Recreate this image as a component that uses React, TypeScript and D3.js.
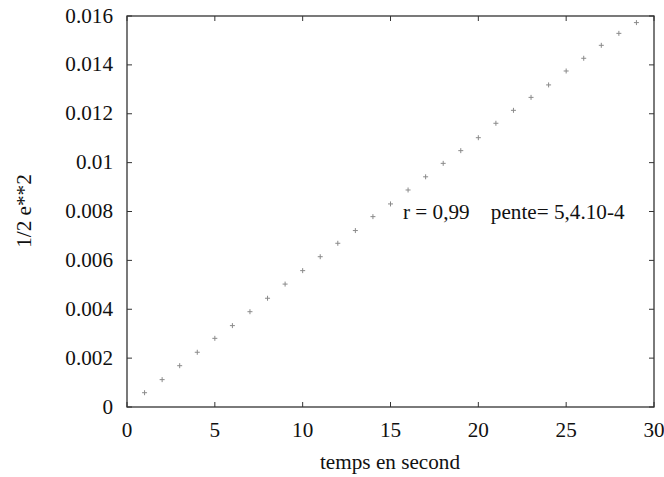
import React from "react";
import * as d3 from "d3";

const times = [
  1, 2, 3, 4, 5, 6, 7, 8, 9, 10, 11, 12, 13, 14, 15, 16, 17, 18, 19, 20, 21, 22,
  23, 24, 25, 26, 27, 28, 29,
];
const halfESquared = [
  0.000585, 0.00112, 0.00169, 0.00224, 0.00281, 0.00333, 0.0039, 0.00445,
  0.00503, 0.00558, 0.00615, 0.0067, 0.00722, 0.00779, 0.00831, 0.00888,
  0.00942, 0.00997, 0.01049, 0.01102, 0.01161, 0.01214, 0.01267, 0.01318,
  0.01375, 0.01427, 0.0148, 0.01529, 0.01573,
];
const xTicks = [0, 5, 10, 15, 20, 25, 30];
const yTicks = [0, 0.002, 0.004, 0.006, 0.008, 0.01, 0.012, 0.014, 0.016];
const yTickLabels = ["0", "0.002", "0.004", "0.006", "0.008", "0.01", "0.012", "0.014", "0.016"];
const annotation = "r = 0,99    pente= 5,4.10-4";

const W = 664;
const H = 477;
const FONT = "'Liberation Serif', 'Times New Roman', serif";
const FS = 20;
const SX = 1.06; // glyphs in the source look slightly wide

// text stretched along its baseline
const Label = ({ x, y, anchor = "start", rotate = 0, children }: any) => (
  <g transform={`translate(${x},${y}) rotate(${rotate}) scale(${SX},1)`}>
    <text
      textAnchor={anchor}
      fontFamily={FONT}
      fontSize={FS}
      fill="#111"
      style={{ whiteSpace: "pre" }}
    >
      {children}
    </text>
  </g>
);

export default function App() {
  const x = d3.scaleLinear().domain([0, 30]).range([127, 654]);
  const y = d3.scaleLinear().domain([0, 0.016]).range([407, 16]);
  const tk = 5;

  return (
    <svg
      width={W}
      height={H}
      style={{ position: "absolute", left: 0, top: 0, background: "#fff" }}
    >
      {/* frame */}
      <rect
        x={x(0)}
        y={y(0.016)}
        width={x(30) - x(0)}
        height={y(0) - y(0.016)}
        fill="none"
        stroke="#333"
        strokeWidth={1.3}
      />
      {xTicks.map((t) => (
        <g key={"x" + t}>
          <line x1={x(t)} x2={x(t)} y1={y(0)} y2={y(0) - tk} stroke="#333" />
          <line x1={x(t)} x2={x(t)} y1={y(0.016)} y2={y(0.016) + tk} stroke="#333" />
          <Label x={x(t)} y={437} anchor="middle">
            {t}
          </Label>
        </g>
      ))}
      {yTicks.map((t, i) => (
        <g key={"y" + t}>
          <line x1={x(0)} x2={x(0) + tk} y1={y(t)} y2={y(t)} stroke="#333" />
          <line x1={x(30)} x2={x(30) - tk} y1={y(t)} y2={y(t)} stroke="#333" />
          <Label x={113} y={y(t) + 6.5} anchor="end">
            {yTickLabels[i]}
          </Label>
        </g>
      ))}
      {/* points */}
      {times.map((t, i) => {
        const cx = x(t);
        const cy = y(halfESquared[i]);
        return (
          <g key={"p" + t} stroke="#8a8a8a" strokeWidth={1}>
            <line x1={cx - 2.5} x2={cx + 2.5} y1={cy} y2={cy} />
            <line x1={cx} x2={cx} y1={cy - 2.5} y2={cy + 2.5} />
          </g>
        );
      })}
      <Label x={403} y={219}>
        {annotation}
      </Label>
      <Label x={390} y={469} anchor="middle">
        temps en second
      </Label>
      <Label x={31} y={211} anchor="middle" rotate={-90}>
        1/2 e**2
      </Label>
    </svg>
  );
}
